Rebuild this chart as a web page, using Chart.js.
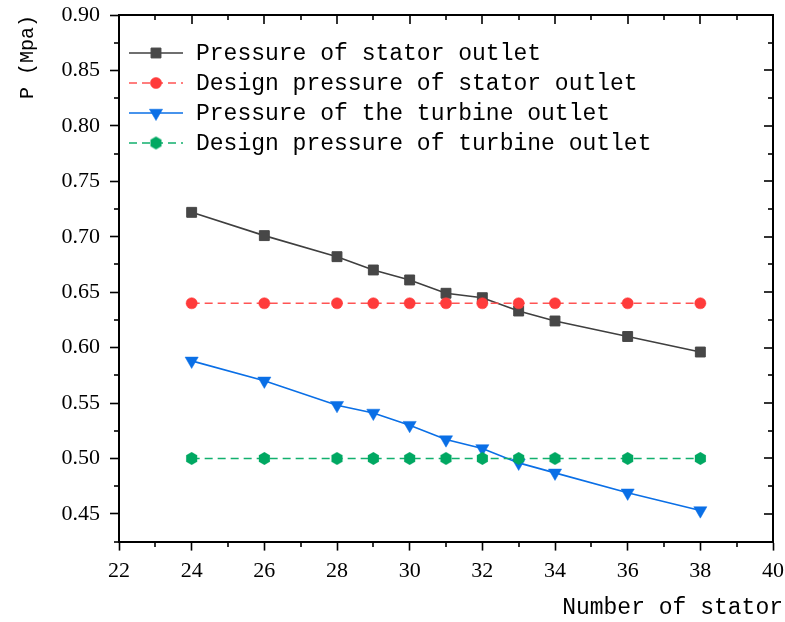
<!DOCTYPE html>
<html><head><meta charset="utf-8">
<script src="https://cdn.jsdelivr.net/npm/chart.js@4/dist/chart.umd.min.js"></script>
<style>html,body{margin:0;padding:0;background:#fff}#wrap{width:785px;height:622px}</style>
</head><body><div id="wrap"><canvas id="c" width="785" height="622"></canvas></div>
<script>
// ---- data ----
const statorCounts = [24, 26, 28, 29, 30, 31, 32, 33, 34, 36, 38];
const statorOutletPressure = [0.722, 0.701, 0.682, 0.670, 0.661, 0.649, 0.645, 0.633, 0.624, 0.610, 0.596];
const designStatorPressure = [0.64, 0.64, 0.64, 0.64, 0.64, 0.64, 0.64, 0.64, 0.64, 0.64, 0.64];
const turbineOutletPressure = [0.588, 0.570, 0.548, 0.541, 0.530, 0.517, 0.509, 0.496, 0.487, 0.469, 0.453];
const designTurbinePressure = [0.50, 0.50, 0.50, 0.50, 0.50, 0.50, 0.50, 0.50, 0.50, 0.50, 0.50];
const seriesNames = ['Pressure of stator outlet', 'Design pressure of stator outlet', 'Pressure of the turbine outlet', 'Design pressure of turbine outlet'];
const xTickValues = [22, 24, 26, 28, 30, 32, 34, 36, 38, 40];
const yTickValues = [0.45, 0.50, 0.55, 0.60, 0.65, 0.70, 0.75, 0.80, 0.85, 0.90];
const xTitle = 'Number of stator';
const yTitle = 'P (Mpa)';

// hexagon marker image
function hexImage(color, r) {
  const s = Math.ceil(r * 2 + 2);
  const cv = document.createElement('canvas');
  cv.width = s; cv.height = s;
  const g = cv.getContext('2d');
  g.fillStyle = color;
  g.beginPath();
  for (let k = 0; k < 6; k++) {
    const ang = Math.PI / 2 + k * Math.PI / 3;
    const px = s / 2 + r * Math.cos(ang), py = s / 2 + r * Math.sin(ang);
    if (k === 0) g.moveTo(px, py); else g.lineTo(px, py);
  }
  g.closePath(); g.fill();
  return cv;
}
const greenHex = hexImage('#00a862', 6.4);

const pts = (ys) => statorCounts.map((x, i) => ({x, y: ys[i]}));

const datasets = [
  {label: seriesNames[0], data: pts(statorOutletPressure), borderColor: '#3f3f3f', backgroundColor: '#474747',
   pointBackgroundColor: '#474747', pointBorderColor: '#474747', borderWidth: 1.6, pointStyle: 'rect', pointRadius: 7, pointBorderWidth: 1, order: 4},
  {label: seriesNames[1], data: pts(designStatorPressure), borderColor: '#ff5454', backgroundColor: '#ff3b3b',
   pointBackgroundColor: '#ff3b3b', pointBorderColor: '#ff3b3b', borderWidth: 1.5, borderDash: [8, 5], pointStyle: 'circle', pointRadius: 5.6, pointBorderWidth: 0.5, order: 3},
  {label: seriesNames[2], data: pts(turbineOutletPressure), borderColor: '#0a6fe6', backgroundColor: '#0a6fe6',
   pointBackgroundColor: '#0a6fe6', pointBorderColor: '#0a6fe6', borderWidth: 1.6, pointStyle: 'triangle', pointRotation: 180, pointRadius: 7.6, pointBorderWidth: 0.5, order: 2},
  {label: seriesNames[3], data: pts(designTurbinePressure), borderColor: '#12b06e', backgroundColor: '#00a862',
   pointBackgroundColor: '#00a862', pointBorderColor: '#00a862', borderWidth: 1.5, borderDash: [8, 5], pointStyle: greenHex, pointRadius: 6.4, pointBorderWidth: 0, order: 1}
];

function drawMarker(ctx, ds, x, y) {
  const r = ds.pointRadius;
  ctx.save();
  ctx.fillStyle = ds.pointBackgroundColor;
  ctx.strokeStyle = ds.pointBorderColor;
  ctx.lineWidth = ds.pointBorderWidth;
  ctx.setLineDash([]);
  const st = ds.pointStyle;
  ctx.beginPath();
  if (st === 'rect') {
    const s = Math.SQRT1_2 * r;
    ctx.rect(x - s, y - s, 2 * s, 2 * s);
  } else if (st === 'circle') {
    ctx.arc(x, y, r, 0, Math.PI * 2);
  } else if (st === 'triangle') {
    let rad = (ds.pointRotation || 0) * Math.PI / 180;
    ctx.moveTo(x + Math.sin(rad) * r, y - Math.cos(rad) * r);
    rad += 2 * Math.PI / 3;
    ctx.lineTo(x + Math.sin(rad) * r, y - Math.cos(rad) * r);
    rad += 2 * Math.PI / 3;
    ctx.lineTo(x + Math.sin(rad) * r, y - Math.cos(rad) * r);
    ctx.closePath();
  } else {
    ctx.drawImage(st, x - st.width / 2, y - st.height / 2);
    ctx.restore();
    return;
  }
  ctx.fill();
  if (ds.pointBorderWidth > 0) ctx.stroke();
  ctx.restore();
}

const legendPlugin = {
  id: 'insideLegend',
  afterDraw(chart) {
    const {ctx, chartArea: a} = chart;
    chart.data.datasets.forEach((ds, i) => {
      const yy = a.top + 38 + i * 30;
      const x0 = a.left + 10, x1 = a.left + 64, xm = a.left + 37;
      ctx.save();
      ctx.strokeStyle = ds.borderColor;
      ctx.lineWidth = ds.borderWidth;
      ctx.setLineDash(ds.borderDash || []);
      ctx.beginPath(); ctx.moveTo(x0, yy); ctx.lineTo(x1, yy); ctx.stroke();
      ctx.restore();
      drawMarker(ctx, ds, xm, yy);
      ctx.save();
      ctx.fillStyle = '#000';
      ctx.font = '23px "Liberation Mono"';
      ctx.textBaseline = 'middle';
      ctx.textAlign = 'left';
      ctx.fillText(ds.label, a.left + 77, yy + 1);
      ctx.restore();
    });
    // x axis title, right-aligned slightly past the frame as in the original
    ctx.save();
    ctx.fillStyle = '#000';
    ctx.font = '23px "Liberation Mono"';
    ctx.textBaseline = 'middle';
    ctx.textAlign = 'right';
    ctx.fillText(xTitle, a.right + 10, 608);
    ctx.restore();
  }
};

const framePlugin = {
  id: 'frame',
  afterDraw(chart) {
    const {ctx, chartArea: a, scales: {x, y}} = chart;
    const L = Math.round(a.left), R = Math.round(a.right), T = Math.round(a.top), B = Math.round(a.bottom);
    ctx.save();
    ctx.strokeStyle = '#000';
    ctx.lineWidth = 2;
    ctx.beginPath();
    ctx.moveTo(L - 1, T); ctx.lineTo(R, T); ctx.lineTo(R, B + 1);
    ctx.stroke();
    ctx.lineWidth = 1.6;
    const seg = (x1, y1, x2, y2) => { ctx.beginPath(); ctx.moveTo(x1, y1); ctx.lineTo(x2, y2); ctx.stroke(); };
    const major = 9, minor = 5;
    xTickValues.forEach((v, i) => {
      const px = Math.round(x.getPixelForValue(v));
      if (i > 0 && i < xTickValues.length - 1) seg(px, T, px, T + major);
      if (i < xTickValues.length - 1) {
        const m = Math.round(x.getPixelForValue((v + xTickValues[i + 1]) / 2));
        seg(m, T, m, T + minor);
        seg(m, B, m, B + minor);
      }
    });
    const stepY = yTickValues[1] - yTickValues[0];
    yTickValues.forEach((v) => {
      const py = Math.round(y.getPixelForValue(v));
      if (v < y.max - 1e-9) seg(R, py, R - major, py);
      const mv = v - stepY / 2;
      if (mv >= y.min - 1e-9) {
        const m = Math.round(y.getPixelForValue(mv));
        seg(R, m, R - minor, m);
        seg(L, m, L - minor, m);
      }
    });
    ctx.restore();
  }
};

const tickFont = {family: '"Liberation Serif"', size: 22};

new Chart(document.getElementById('c'), {
  type: 'line',
  data: {datasets},
  options: {
    responsive: false,
    animation: false,
    events: [],
    layout: {padding: {left: 16, right: 12, top: 15, bottom: 31}},
    plugins: {legend: {display: false}, tooltip: {enabled: false}},
    scales: {
      x: {
        type: 'linear', min: 22, max: 40,
        afterBuildTicks: (s) => { s.ticks = xTickValues.map(v => ({value: v})); },
        afterFit: (s) => { s.paddingLeft = 0; s.paddingRight = 0; },
        grid: {display: true, drawOnChartArea: false, drawTicks: true, tickLength: 9, tickWidth: 1.6, tickColor: '#000'},
        border: {display: true, color: '#000', width: 2},
        ticks: {font: tickFont, color: '#000', padding: 7, maxRotation: 0, autoSkip: false, callback: (v) => String(v)},
        title: {display: false}
      },
      y: {
        type: 'linear', min: 0.425, max: 0.90,
        afterBuildTicks: (s) => { s.ticks = yTickValues.map(v => ({value: v})); },
        afterFit: (s) => { s.paddingTop = 0; s.paddingBottom = 0; },
        grid: {display: true, drawOnChartArea: false, drawTicks: true, tickLength: 9, tickWidth: 1.6, tickColor: '#000'},
        border: {display: true, color: '#000', width: 2},
        ticks: {font: tickFont, color: '#000', padding: 10, autoSkip: false, callback: (v) => Number(v).toFixed(2)},
        title: {display: true, text: yTitle, align: 'end', font: {family: '"Liberation Mono"', size: 20}, color: '#000', padding: {top: 0, bottom: 11.5}}
      }
    }
  },
  plugins: [legendPlugin, framePlugin]
});
</script>
</body></html>
